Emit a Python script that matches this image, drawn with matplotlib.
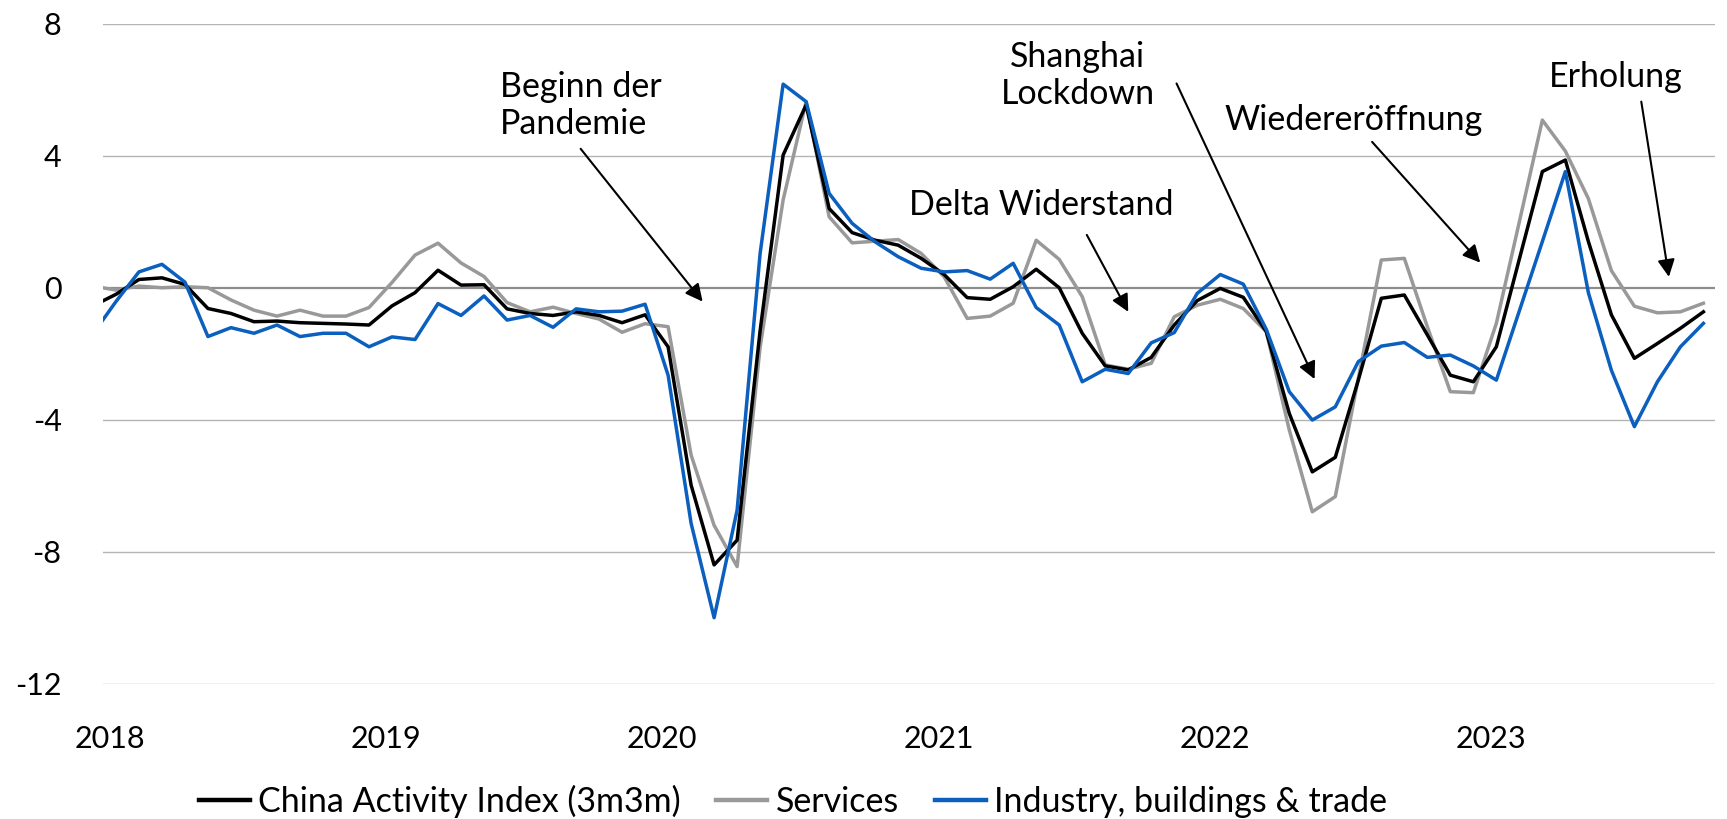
"""China activity index (3m3m) with services and industry components, 2018-2023."""
import matplotlib
matplotlib.use("Agg")
import matplotlib.pyplot as plt
import numpy as np

# monthly values, Dec 2017 .. Oct 2023 (first point sits just outside the axis)
ACTIVITY = [
    -0.55, -0.20, 0.25, 0.30, 0.10, -0.63, -0.78, -1.03, -1.01, -1.06, -1.08, -1.10, -1.13,
    -0.55, -0.15, 0.53, 0.08, 0.09, -0.64, -0.78, -0.84, -0.73, -0.84, -1.06, -0.82,
    -1.79, -5.98, -8.40, -7.65, -1.30, 4.02, 5.54, 2.40, 1.67, 1.44, 1.29, 0.89,
    0.40, -0.30, -0.35, 0.03, 0.56, 0.00, -1.38, -2.37, -2.49, -2.11, -1.13, -0.39,
    -0.02, -0.29, -1.33, -3.81, -5.58, -5.14, -2.80, -0.32, -0.22, -1.43, -2.65, -2.85,
    -1.79, 0.87, 3.52, 3.87, 1.40, -0.82, -2.14, -1.69, -1.23, -0.73,
]
SERVICES = [
    0.05, -0.07, 0.05, 0.00, 0.03, 0.00, -0.37, -0.68, -0.86, -0.68, -0.86, -0.86, -0.60,
    0.16, 0.99, 1.35, 0.75, 0.34, -0.45, -0.73, -0.59, -0.78, -0.95, -1.35, -1.09,
    -1.18, -5.07, -7.20, -8.45, -1.80, 2.66, 5.64, 2.15, 1.36, 1.41, 1.46, 1.04,
    0.33, -0.93, -0.86, -0.47, 1.44, 0.86, -0.27, -2.34, -2.47, -2.29, -0.88, -0.53,
    -0.35, -0.63, -1.33, -4.31, -6.79, -6.33, -2.75, 0.84, 0.89, -1.18, -3.15, -3.18,
    -1.08, 2.00, 5.08, 4.14, 2.70, 0.52, -0.56, -0.76, -0.73, -0.47,
]
INDUSTRY = [
    -1.40, -0.42, 0.48, 0.71, 0.17, -1.48, -1.21, -1.38, -1.13, -1.48, -1.38, -1.38, -1.79,
    -1.49, -1.57, -0.48, -0.84, -0.25, -0.98, -0.84, -1.20, -0.64, -0.73, -0.71, -0.50,
    -2.65, -7.14, -10.00, -6.74, 1.04, 6.17, 5.64, 2.86, 1.95, 1.39, 0.94, 0.59,
    0.48, 0.52, 0.26, 0.74, -0.60, -1.13, -2.85, -2.47, -2.60, -1.67, -1.36, -0.17,
    0.40, 0.11, -1.26, -3.15, -4.01, -3.61, -2.24, -1.77, -1.66, -2.11, -2.04, -2.37,
    -2.80, -0.70, 1.40, 3.52, -0.15, -2.50, -4.21, -2.85, -1.79, -1.08,
]
YEARS = ["2018", "2019", "2020", "2021", "2022", "2023"]
SERIES_LABELS = ["China Activity Index (3m3m)", "Services", "Industry, buildings & trade"]

# (text, text xy, alignment, arrow start, arrow tip) in data units (months since Jan 2018, value)
ANNOTATIONS = [
    ("Beginn der\nPandemie", (16.7, 5.52), "left", (20.2, 4.21), (25.5, -0.42)),
    ("Delta Widerstand", (40.2, 2.51), "center", (42.2, 1.60), (44.0, -0.73)),
    ("Shanghai\nLockdown", (41.8, 6.43), "center", (46.1, 6.19), (52.1, -2.77)),
    ("Wiedereröffnung", (53.8, 5.08), "center", (54.6, 4.42), (59.3, 0.76)),
    ("Erholung", (65.2, 6.38), "center", (66.3, 5.64), (67.5, 0.33)),
]

BLACK = "#000000"
GREY = "#999999"
BLUE = "#0a5fbf"

plt.rcParams["font.family"] = ["Lato", "DejaVu Sans"]
FS = 22
FS_NOTE = 24.5

fig = plt.figure(figsize=(17.27, 8.19), dpi=100)
ax = fig.add_axes([0.0598, 0.1652, 0.9332, 0.8058])

x = np.arange(-1, len(ACTIVITY) - 1)

for yv in [-12, -8, -4, 4, 8]:
    ax.axhline(yv, color="#b4b4b4", lw=1.0, zorder=1)
ax.axhline(0, color="#8c8c8c", lw=1.6, zorder=1)

ax.plot(x, ACTIVITY, color=BLACK, lw=2.5, label=SERIES_LABELS[0], zorder=4)
ax.plot(x, SERVICES, color=GREY, lw=2.5, label=SERIES_LABELS[1], zorder=3)
ax.plot(x, INDUSTRY, color=BLUE, lw=2.5, label=SERIES_LABELS[2], zorder=5)

ax.set_xlim(-0.55, 69.5)
ax.set_ylim(-12, 8)
ax.set_yticks([-12, -8, -4, 0, 4, 8])
ax.set_yticklabels([str(v) for v in [-12, -8, -4, 0, 4, 8]])
ax.set_xticks([12 * k - 0.25 for k in range(len(YEARS))])
ax.set_xticklabels(YEARS)
ax.tick_params(axis="both", length=0, labelsize=FS)
ax.tick_params(axis="y", pad=30)
ax.tick_params(axis="x", pad=30)
for s in ax.spines.values():
    s.set_visible(False)

for text, txy, ha, start, tip in ANNOTATIONS:
    ax.text(txy[0], txy[1], text, ha=ha, va="center", fontsize=FS_NOTE,
            linespacing=1.2, zorder=6)
    ax.annotate("", xy=tip, xytext=start,
                arrowprops=dict(arrowstyle="-|>", color="black", lw=1.5,
                                mutation_scale=26, shrinkA=0, shrinkB=0),
                zorder=6)

leg = fig.legend(loc="center", bbox_to_anchor=(793 / 1727, 1 - 801 / 819), ncol=3,
                 frameon=False, fontsize=FS_NOTE,
                 handlelength=1.5, handletextpad=0.25, columnspacing=1.05)
for line in leg.get_lines():
    line.set_linewidth(3.2)

fig.savefig("out.png", dpi=100)
plt.close(fig)
